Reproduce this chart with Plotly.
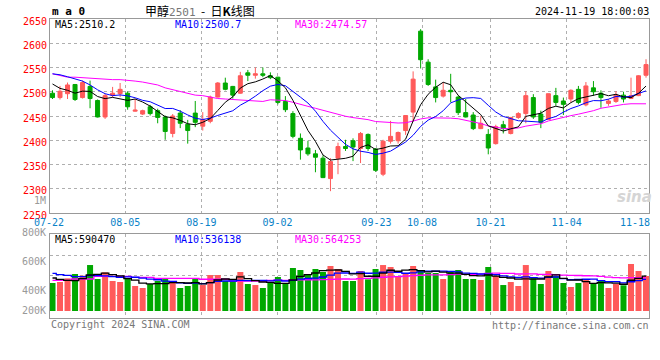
import plotly.graph_objects as go

# ---------------- data ----------------
dates = ["07-22", "07-23", "07-24", "07-25", "07-26", "07-29", "07-30", "07-31",
         "08-01", "08-02", "08-05", "08-06", "08-07", "08-08", "08-09", "08-12",
         "08-13", "08-14", "08-15", "08-16", "08-19", "08-20", "08-21", "08-22",
         "08-23", "08-26", "08-27", "08-28", "08-29", "08-30", "09-02", "09-03",
         "09-04", "09-05", "09-06", "09-09", "09-10", "09-11", "09-12", "09-13",
         "09-18", "09-19", "09-20", "09-23", "09-24", "09-25", "09-26", "09-27",
         "09-30", "10-08", "10-09", "10-10", "10-11", "10-14", "10-15", "10-16",
         "10-17", "10-18", "10-21", "10-22", "10-23", "10-24", "10-25", "10-28",
         "10-29", "10-30", "10-31", "11-01", "11-04", "11-05", "11-06", "11-07",
         "11-08", "11-11", "11-12", "11-13", "11-14", "11-15", "11-18", "11-19"]

opens = [2497, 2488, 2496, 2515, 2488, 2511, 2482, 2448, 2493, 2496,
         2497, 2460, 2454, 2469, 2461, 2448, 2414, 2456, 2433, 2456,
         2429, 2439, 2489, 2518, 2511, 2497, 2539, 2534, 2537, 2533,
         2530, 2480, 2455, 2404, 2384, 2372, 2363, 2321, 2363, 2387,
         2399, 2383, 2412, 2382, 2330, 2398, 2399, 2420, 2458, 2625,
         2561, 2510, 2491, 2503, 2489, 2457, 2452, 2424, 2412, 2393,
         2432, 2414, 2447, 2455, 2488, 2454, 2443, 2492, 2481, 2485,
         2505, 2473, 2508, 2497, 2476, 2480, 2493, 2486, 2492, 2534]
highs = [2503, 2512, 2519, 2516, 2523, 2523, 2484, 2496, 2510, 2518,
         2501, 2485, 2463, 2473, 2465, 2451, 2454, 2462, 2442, 2481,
         2458, 2492, 2520, 2529, 2512, 2541, 2545, 2550, 2550, 2540,
         2531, 2491, 2460, 2414, 2399, 2380, 2369, 2363, 2395, 2401,
         2404, 2417, 2414, 2384, 2401, 2440, 2418, 2452, 2542, 2629,
         2567, 2525, 2520, 2537, 2492, 2485, 2458, 2450, 2423, 2432,
         2440, 2448, 2458, 2501, 2495, 2461, 2496, 2508, 2488, 2505,
         2512, 2520, 2522, 2503, 2485, 2501, 2500, 2529, 2534, 2567]
lows = [2485, 2484, 2485, 2481, 2486, 2466, 2447, 2444, 2488, 2489,
        2463, 2459, 2452, 2451, 2435, 2401, 2406, 2425, 2393, 2427,
        2420, 2435, 2488, 2503, 2486, 2496, 2522, 2527, 2530, 2526,
        2474, 2458, 2404, 2360, 2368, 2334, 2322, 2295, 2330, 2378,
        2357, 2353, 2378, 2335, 2326, 2393, 2393, 2411, 2439, 2548,
        2512, 2478, 2488, 2478, 2452, 2447, 2421, 2423, 2371, 2391,
        2414, 2412, 2444, 2435, 2444, 2425, 2442, 2471, 2452, 2478,
        2474, 2470, 2492, 2467, 2471, 2477, 2478, 2485, 2491, 2529]
closes = [2488, 2501, 2514, 2484, 2519, 2486, 2448, 2492, 2497, 2505,
          2469, 2462, 2461, 2455, 2447, 2418, 2450, 2435, 2420, 2437,
          2443, 2489, 2518, 2505, 2493, 2533, 2534, 2537, 2534, 2529,
          2478, 2463, 2408, 2380, 2372, 2365, 2323, 2356, 2387, 2383,
          2386, 2414, 2383, 2338, 2398, 2408, 2416, 2451, 2526, 2566,
          2515, 2488, 2503, 2500, 2457, 2448, 2424, 2435, 2384, 2428,
          2424, 2447, 2455, 2492, 2448, 2437, 2496, 2478, 2474, 2503,
          2478, 2512, 2500, 2488, 2481, 2493, 2485, 2492, 2533, 2556]
volumes = [473, 490, 552, 625, 597, 777, 541, 654, 507, 490,
           541, 423, 389, 456, 507, 541, 507, 389, 423, 541,
           439, 608, 608, 507, 507, 659, 456, 439, 389, 473,
           575, 456, 727, 693, 625, 710, 659, 761, 710, 507,
           507, 676, 535, 710, 777, 744, 592, 625, 761, 693,
           642, 642, 541, 676, 693, 541, 541, 524, 744, 592,
           439, 490, 423, 777, 558, 456, 676, 592, 473, 406,
           473, 535, 456, 524, 389, 456, 434, 794, 676, 592]  # thousands

# moving-average values before enough in-window data exists
ma5_head = [2516, 2507, 2503, 2497]
ma10_head = [2537, 2535, 2531, 2526, 2522, 2514, 2504, 2496, 2492]
ma30_head = [2537, 2533, 2530, 2530, 2529, 2528, 2526, 2525, 2525, 2525,
             2524, 2522, 2520, 2517, 2514, 2508, 2504, 2501, 2497, 2493,
             2492, 2489, 2486, 2485, 2484, 2482, 2481, 2480, 2480]
vma5_head = [558, 535, 518, 513]
vma10_head = [637, 614, 603, 580, 580, 597, 597, 592, 580]
vma30_head = [518, 518, 518, 541, 541, 541, 586, 586, 586, 586,
              586, 569, 569, 569, 552, 552, 552, 552, 552, 552,
              537, 537, 537, 537, 507, 507, 507, 507, 507]

legend_main = ["MA5:2510.2", "MA10:2500.7", "MA30:2474.57"]
legend_vol = ["MA5:590470", "MA10:536138", "MA30:564253"]
price_ticks = [2250, 2300, 2350, 2400, 2450, 2500, 2550, 2600, 2650]
grid_dates = ["08-05", "08-19", "09-02", "09-23", "10-08", "10-21", "11-04"]
edge_dates = ["07-22", "11-18"]
vol_labels = ["800K", "600K", "400K", "200K"]


def moving(vals, n, head):
    out = list(head)
    for i in range(len(head), len(vals)):
        w = vals[i - n + 1:i + 1]
        out.append(sum(w) / len(w))
    return out


# ---------------- styling ----------------
W, H = 660, 360
RED = "#FF5A5A"
GREEN = "#00A800"
MONO = "DejaVu Sans Mono"
GRID = "#AFAFAF"
BORDER = "#999999"
X0, X1 = 50, 649            # plot box (px)
Y0M, Y1M = 19, 213          # main box top / bottom (px)
Y0V, Y1V = 234, 318         # volume box top / bottom (px)
GRID_SCALE, GRID_SHIFT = 1.0129, -0.44   # Sina draws date grid a bit wider

idx = list(range(len(dates)))
vol_units = [v * 1000 for v in volumes]
vcolors = [RED if c >= o else GREEN for o, c in zip(opens, closes)]


def px(x):
    return x / W


def py(y):
    return 1 - y / H


fig = go.Figure()
fig.add_trace(go.Candlestick(
    x=idx, open=opens, high=highs, low=lows, close=closes,
    increasing=dict(line=dict(color=RED, width=1), fillcolor=RED),
    decreasing=dict(line=dict(color=GREEN, width=1), fillcolor=GREEN),
    whiskerwidth=0, xaxis="x", yaxis="y", showlegend=False, hoverinfo="skip"))
for vals, col in [(moving(closes, 30, ma30_head), "#FF00FF"),
                  (moving(closes, 10, ma10_head), "#0000FF"),
                  (moving(closes, 5, ma5_head), "#000000")]:
    fig.add_trace(go.Scatter(x=idx, y=vals, mode="lines", line=dict(color=col, width=1),
                             xaxis="x", yaxis="y", showlegend=False, hoverinfo="skip"))

fig.add_trace(go.Bar(x=idx, y=vol_units, marker=dict(color=vcolors, line=dict(width=0)),
                     xaxis="x2", yaxis="y2", showlegend=False, hoverinfo="skip"))
for head, n, col in [(vma30_head, 30, "#FF00FF"), (vma10_head, 10, "#0000FF"),
                     (vma5_head, 5, "#000000")]:
    vals = [v * 1000 for v in moving(volumes, n, head)]
    fig.add_trace(go.Scatter(x=idx, y=vals, mode="lines", line=dict(color=col, width=1.3, shape="hvh"),
                             xaxis="x2", yaxis="y2", showlegend=False, hoverinfo="skip"))

grid_pos = [dates.index(d) * GRID_SCALE + GRID_SHIFT for d in grid_dates]
xr = [(X0 - 52.5) / 7.513, (X1 - 52.5) / 7.513]
common_x = dict(range=xr, showgrid=True, gridcolor=GRID, griddash="dot", gridwidth=1,
                showline=True, mirror=True, linecolor=BORDER, linewidth=1, automargin=False,
                zeroline=False, ticks="", tickvals=grid_pos, fixedrange=True)

# volume axis: 0 at baseline px 311, 16.9K per px
VK = 16902.0
vrange = [(311 - Y1V) * VK, (311 - Y0V) * VK]
vgrid = [(311 - y) * VK for y in (255.7, 275.7, 295.3)]

fig.update_layout(
    width=W, height=H, margin=dict(l=0, r=0, t=0, b=0, autoexpand=False),
    paper_bgcolor="white", plot_bgcolor="white",
    boxgap=0.24, bargap=0.2,
    xaxis=dict(domain=[px(X0), px(X1)], anchor="y", ticktext=grid_dates,
               tickfont=dict(family=MONO, size=10, color="#0A82C8"),
               rangeslider=dict(visible=False), **common_x),
    yaxis=dict(domain=[py(Y1M), py(Y0M)], anchor="x", range=[2250, 2650],
               tickvals=price_ticks, ticks="", showgrid=True, gridcolor=GRID, griddash="dot",
               showline=True, mirror=True, linecolor=BORDER, zeroline=False, automargin=False,
               tickfont=dict(family=MONO, size=10, color="#FF0000"), ticklabelshift=2,
               fixedrange=True),
    xaxis2=dict(domain=[px(X0), px(X1)], anchor="y2", showticklabels=False, **common_x),
    yaxis2=dict(domain=[py(Y1V), py(Y0V)], anchor="x2", range=vrange, tickvals=vgrid,
                showticklabels=False, ticks="", showgrid=True, gridcolor=GRID, griddash="dot",
                showline=True, mirror=True, linecolor=BORDER, zeroline=False, automargin=False,
                fixedrange=True),
)

ann = []


def text(x, y, s, color="#000", size=10, xanchor="left", family=MONO):
    ann.append(dict(x=px(x), y=py(y), xref="paper", yref="paper", text=s, showarrow=False,
                    xanchor=xanchor, yanchor="middle", borderpad=0,
                    font=dict(family=family, size=size, color=color)))


text(51, 12, "<b>m a 0</b>", size=11)
text(200, 10, "甲醇<span style='font-family:DejaVu Sans Mono;font-size:11px;color:#777'>2501</span>  -  日<b>K</b>线图",
     size=12, xanchor="center", family="Noto Sans CJK SC")
text(650, 12, "2024-11-19 18:00:03", xanchor="right")
for s, x, c in zip(legend_main, (54, 174, 294), ("#000000", "#0000FF", "#FF00FF")):
    text(x, 25, s, color=c)
for s, x, c in zip(legend_vol, (54, 174, 294), ("#000000", "#0000FF", "#FF00FF")):
    text(x, 239, s, color=c)
for s, y in zip(vol_labels, (232, 261, 290, 310)):
    text(47, y, s, color="#999999", xanchor="right")
text(47, 200, "1M", color="#999999", xanchor="right")
text(49, 222, edge_dates[0], color="#0A82C8", xanchor="center")
text(635, 222, edge_dates[1], color="#0A82C8", xanchor="center")
text(50, 324, "Copyright 2024 SINA.COM", color="#777777")
text(650, 325, "http://finance.sina.com.cn", color="#777777", xanchor="right")
text(634, 197, "<b><i>sina</i></b>", color="#D5D5D5", size=15, xanchor="center",
     family="DejaVu Sans")
fig.update_layout(annotations=ann)

fig.write_html("out.html", config={"displayModeBar": False, "staticPlot": True},
               post_script="document.body.style.margin='0';")
